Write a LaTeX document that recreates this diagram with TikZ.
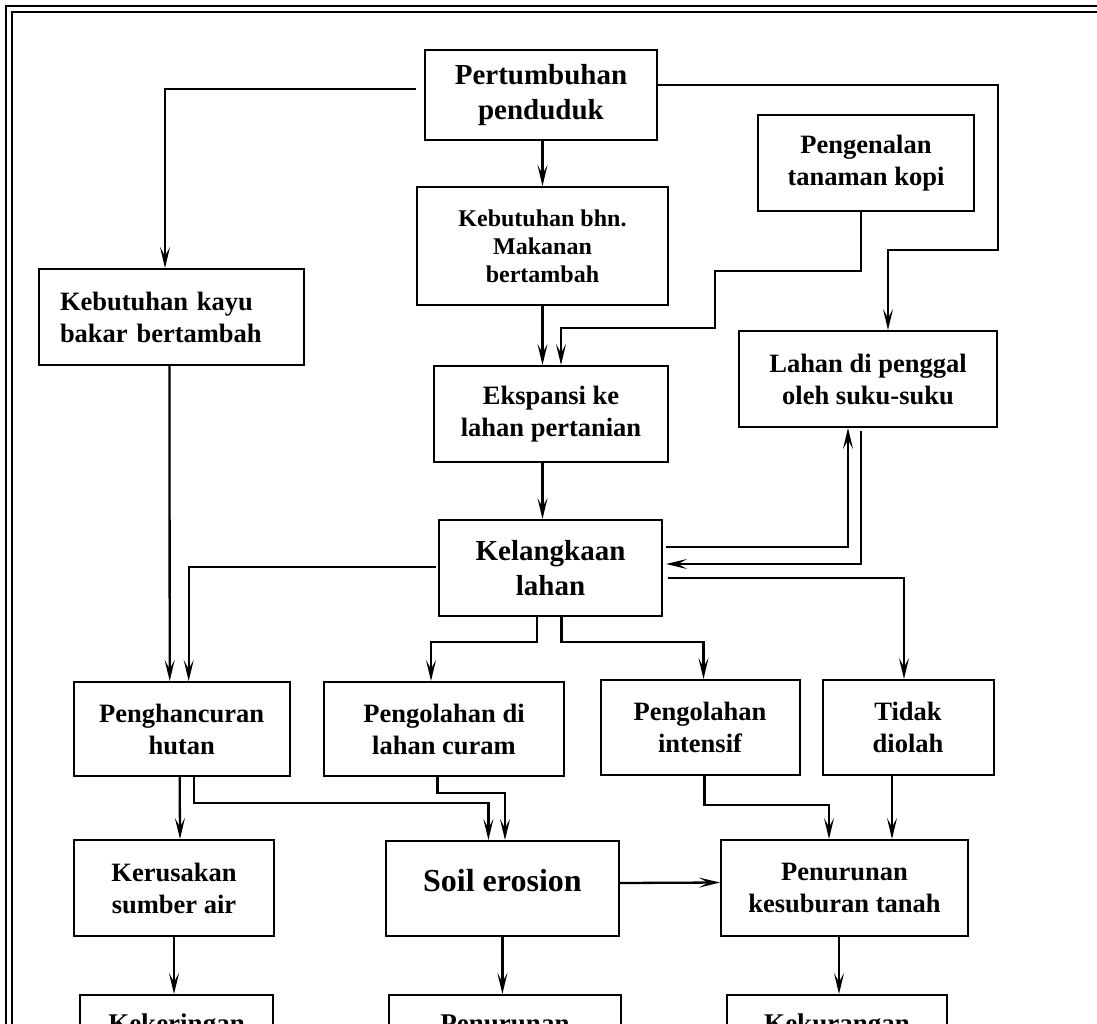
\documentclass[tikz,border=0pt]{standalone}
\usepackage{fontspec}
\setmainfont{Liberation Serif}
\usetikzlibrary{arrows.meta}
\begin{document}
\begin{tikzpicture}[x=1pt, y=-1pt,
  kotak/.style={draw, line width=2pt, align=center, inner sep=0pt, font=\bfseries\fontsize{26.5}{32}\selectfont},
  besar/.style={font=\bfseries\fontsize{29}{35}\selectfont},
  panah/.style={line width=2.3pt, -{Stealth[length=21pt,width=10pt,inset=9pt]}}]
\useasboundingbox (0,0) rectangle (1097,1023);
% bingkai
\draw[line width=2.5pt] (6,6) rectangle (1120,1050);
\draw[line width=2pt] (12,12) rectangle (1114,1044);
% kotak
\node[kotak, besar, minimum width=232pt, minimum height=90pt] (tumbuh) at (541,95) {Pertumbuhan\\penduduk};
\node[kotak, minimum width=265pt, minimum height=96pt, text width=222pt, inner xsep=21.5pt, align=left] (kayu) at (171,317) {Kebutuhan kayu\\bakar bertambah};
\node[kotak, font=\bfseries\fontsize{24}{28}\selectfont, minimum width=251pt, minimum height=118pt] (makan) at (542.5,246) {Kebutuhan bhn.\\Makanan\\bertambah};
\node[kotak, minimum width=216pt, minimum height=96pt] (kopi) at (866,163) {Pengenalan\\tanaman kopi};
\node[kotak, minimum width=234pt, minimum height=96pt] (ekspansi) at (551,414) {Ekspansi ke\\lahan pertanian};
\node[kotak, minimum width=258pt, minimum height=96pt] (suku) at (868,379) {Lahan di penggal\\oleh suku-suku};
\node[kotak, besar, minimum width=223pt, minimum height=96pt] (langka) at (550.5,568) {Kelangkaan\\lahan};
\node[kotak, minimum width=216pt, minimum height=94pt] (hutan) at (181.7,729) {Penghancuran\\hutan};
\node[kotak, minimum width=240pt, minimum height=94pt] (curam) at (444,729) {Pengolahan di\\lahan curam};
\node[kotak, minimum width=199pt, minimum height=95pt] (intensif) at (700,727.5) {Pengolahan\\intensif};
\node[kotak, minimum width=171pt, minimum height=95pt] (diolah) at (908,727.5) {Tidak\\diolah};
\node[kotak, minimum width=200pt, minimum height=96pt] (air) at (174,888) {Kerusakan\\sumber air};
\node[kotak, font=\bfseries\fontsize{32}{38}\selectfont, minimum width=233pt, minimum height=95pt, text depth=17pt] (erosi) at (502.4,888.5) {Soil erosion};
\node[kotak, minimum width=247pt, minimum height=96pt] (subur) at (844.5,888) {Penurunan\\kesuburan tanah};
% baris bawah (terpotong)
\node[kotak, font=\bfseries\fontsize{27}{32}\selectfont, anchor=north, minimum width=193pt, minimum height=96pt, text height=34pt, text depth=56pt] (kering) at (176.5,994) {Kekeringan};
\node[kotak, font=\bfseries\fontsize{27}{32}\selectfont, anchor=north, minimum width=232pt, minimum height=96pt, text height=34pt, text depth=56pt] (turun) at (505,994) {Penurunan};
\node[kotak, font=\bfseries\fontsize{27}{32}\selectfont, anchor=north, minimum width=220pt, minimum height=96pt, text height=34pt, text depth=56pt] (kurang) at (837,994) {Kekurangan};
% panah
\draw[panah] ([shift={(-8,-6)}]tumbuh.west) -| ([shift={(-6,0)}]kayu.north);
\draw[panah] (tumbuh.south -| makan.north) -- (makan.north);
\draw[panah] ([shift={(0,-10)}]tumbuh.east) -| ([shift={(0,-80)}]suku.north east) -| ([shift={(20,0)}]suku.north);
\draw[panah] ([shift={(-5,0)}]kopi.south) |- (715,271) |- ([shift={(10,-37)}]ekspansi.north) -- ([shift={(10,0)}]ekspansi.north);
\draw[panah] (makan.south) -- (makan.south |- ekspansi.north);
\draw[panah] (ekspansi.south -| makan.south) -- (langka.north -| makan.south);
\draw[panah] ([shift={(3,-21)}]langka.east) -| ([shift={(-20,0)}]suku.south);
\draw[panah] ([shift={(-7,3)}]suku.south) |- ([shift={(3,-4)}]langka.east);
\draw[panah] ([shift={(5,10)}]langka.east) -| ([shift={(-4,0)}]diolah.north);
\draw[panah] ([shift={(-2,-1)}]langka.west) -| ([shift={(7,0)}]hutan.north);
\draw[panah] ([shift={(-1.5,0)}]kayu.south) -- ([shift={(-12,0)}]hutan.north);
\draw[panah] ([shift={(-13.5,0)}]langka.south) |- ([shift={(-13,-39)}]curam.north) -- ([shift={(-13,0)}]curam.north);
\draw[panah] ([shift={(11,0)}]langka.south) |- ([shift={(3.5,-37)}]intensif.north) -- ([shift={(3.5,0)}]intensif.north);
\draw[panah] ([shift={(-2,0)}]hutan.south) -- ([shift={(6,0)}]air.north);
\draw[panah] ([shift={(12.3,0)}]hutan.south) |- ([shift={(-14,-37)}]erosi.north) -- ([shift={(-14,0)}]erosi.north);
\draw[panah] ([shift={(-6.6,0)}]curam.south) |- ([shift={(2.6,-47)}]erosi.north) -- ([shift={(2.6,0)}]erosi.north);
\draw[panah] ([shift={(4.6,0)}]intensif.south) |- ([shift={(-15.5,-34)}]subur.north) -- ([shift={(-15.5,0)}]subur.north);
\draw[panah] ([shift={(-16,0)}]diolah.south) -- ([shift={(47.5,0)}]subur.north);
\draw[panah] ([shift={(0,-5.5)}]erosi.east) -- ([shift={(0,-5.5)}]subur.west);
\draw[panah] (air.south) -- (air.south |- kering.north);
\draw[panah] (erosi.south) -- (erosi.south |- turun.north);
\draw[panah] ([shift={(-5.5,0)}]subur.south) -- ([shift={(2,0)}]kurang.north);
\end{tikzpicture}
\end{document}
